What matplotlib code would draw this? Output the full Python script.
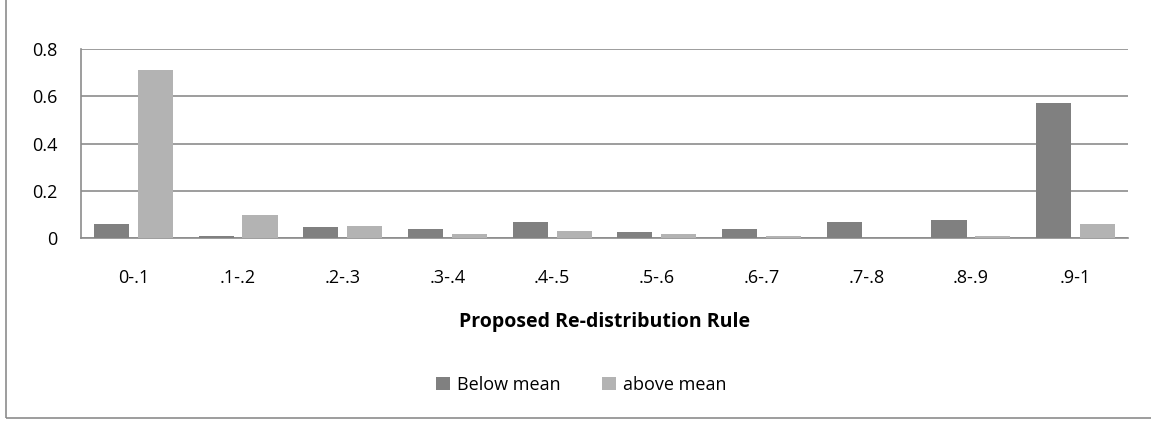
import numpy as np
import matplotlib.pyplot as plt
from matplotlib.patches import Rectangle

categories = ["0-.1", ".1-.2", ".2-.3", ".3-.4", ".4-.5", ".5-.6", ".6-.7", ".7-.8", ".8-.9", ".9-1"]
below_mean = [0.06, 0.008, 0.045, 0.039, 0.068, 0.025, 0.039, 0.068, 0.076, 0.57]
above_mean = [0.71, 0.097, 0.051, 0.018, 0.03, 0.018, 0.01, 0.0, 0.01, 0.06]

plt.rcParams['font.family'] = ['Open Sans', 'DejaVu Sans']
fs = 13

fig = plt.figure(figsize=(11.51, 4.23), dpi=100)
ax = fig.add_axes([81 / 1151, 1 - 238 / 423, (1128 - 81) / 1151, (238 - 49) / 423])

x = np.arange(len(categories))
w = 0.335
ax.bar(x - 0.21, below_mean, w, color="#808080", label="Below mean", zorder=3)
ax.bar(x + 0.21, above_mean, w, color="#b3b3b3", label="above mean", zorder=3)

ax.set_xlim(-0.5, len(categories) - 0.5)
ax.set_ylim(0, 0.8)
ax.set_yticks([0, 0.2, 0.4, 0.6, 0.8])
ax.set_yticklabels(["0", "0.2", "0.4", "0.6", "0.8"])
ax.set_xticks(x)
ax.set_xticklabels(categories)
ax.tick_params(length=0, labelsize=fs, colors="black")
ax.tick_params(axis="x", pad=22)
ax.tick_params(axis="y", pad=17)
ax.yaxis.grid(True, color="#8c8c8c", linewidth=1.2, zorder=0)
ax.set_axisbelow(True)
for s in ["top", "right"]:
    ax.spines[s].set_visible(False)
for s in ["left", "bottom"]:
    ax.spines[s].set_color("#8c8c8c")
    ax.spines[s].set_linewidth(1.2)

ax.text(0.525, 1 - 322 / 423, "Proposed Re-distribution Rule", transform=fig.transFigure,
        ha="center", va="center", fontsize=14, fontweight="bold")

fig.legend(loc="center", bbox_to_anchor=(0.505, 1 - 385 / 423), ncol=2, frameon=False,
           fontsize=fs, handlelength=0.75, handleheight=0.75, handletextpad=0.4, columnspacing=2.3)

# outer chart border
fig.patches.append(Rectangle((6 / 1151, 5 / 423), 1.2, 1.2, transform=fig.transFigure,
                             fill=False, edgecolor="#8c8c8c", linewidth=1.2))

fig.savefig("out.png", dpi=100)
